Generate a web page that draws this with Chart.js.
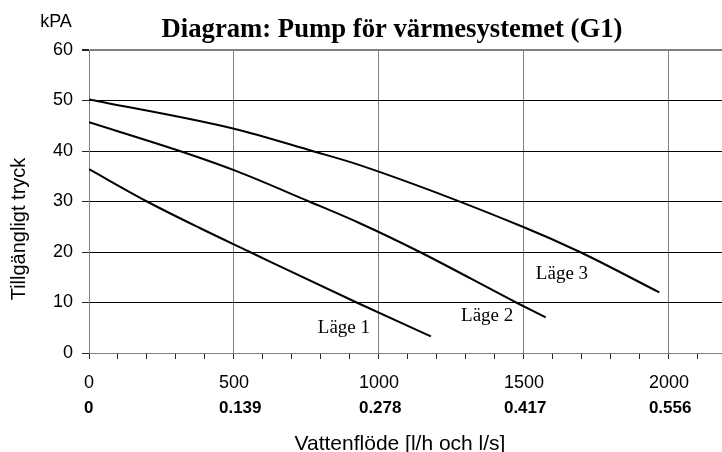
<!DOCTYPE html>
<html><head><meta charset="utf-8">
<script src="https://cdn.jsdelivr.net/npm/chart.js@4"></script>
<style>html,body{margin:0;padding:0;background:#fff}#wrap{width:722px;height:452px;position:relative}</style>
</head><body><div id="wrap"><canvas id="c"></canvas></div>
<script>
const chartTitle = 'Diagram: Pump för värmesystemet (G1)';
const yUnit = 'kPA';
const yTitle = 'Tillgängligt tryck';
const xTitle = 'Vattenflöde [l/h och l/s]';
const seriesNames = ['Läge 1', 'Läge 2', 'Läge 3'];

// Flow [l/h] and pressure [kPa] per pump setting
const flowL1 = [0, 200, 382, 555, 923, 1179];
const kpaL1  = [36.4, 30, 24.75, 20, 10, 3.3];
const flowL2 = [0, 313, 500, 759, 934, 1141, 1473, 1575];
const kpaL2  = [45.7, 40, 36.2, 30, 25.7, 20, 10, 7.05];
const flowL3 = [0, 500, 770, 934, 1500, 1693, 1967];
const kpaL3  = [50.2, 44.4, 40, 37.2, 24.9, 20, 12];

// Axis tick labels
const flowTicks = [0, 500, 1000, 1500, 2000];
const flowTicksLs = ['0', '0.139', '0.278', '0.417', '0.556'];
const kpaTicks = [0, 10, 20, 30, 40, 50, 60];

// Where the series names sit (data coordinates, left/baseline)
const labelFlow = [789, 1283, 1541];
const labelKpa  = [3.96, 6.4, 14.65];

const toPts = (xs, ys) => xs.map((x, i) => ({x, y: ys[i]}));
const SANS = '"Liberation Sans", Arial, sans-serif';
const SERIF = '"Liberation Serif", "Times New Roman", serif';
const TICK_FONT = '18px ' + SANS;

const textPlugin = {
  id: 'texts',
  afterDraw(chart) {
    const ctx = chart.ctx, xs = chart.scales.x, ys = chart.scales.y;
    ctx.save();
    ctx.fillStyle = '#000';
    // main title
    ctx.font = 'bold 26.7px ' + SERIF;
    ctx.textAlign = 'center'; ctx.textBaseline = 'alphabetic';
    ctx.fillText(chartTitle, 392, 37);
    // unit
    ctx.font = '18px ' + SANS;
    ctx.fillText(yUnit, 56, 27);
    // second row of x labels (l/s), left-aligned with the l/h labels
    flowTicks.forEach((v, i) => {
      ctx.font = TICK_FONT;
      const w = ctx.measureText(String(v)).width;
      const left = xs.getPixelForValue(v) - w / 2;
      ctx.font = 'bold 17px ' + SANS;
      ctx.textAlign = 'left';
      ctx.fillText(flowTicksLs[i], left, 413);
    });
    // y title
    ctx.save();
    ctx.translate(25, 229);
    ctx.rotate(-Math.PI / 2);
    ctx.font = '20px ' + SANS;
    ctx.textAlign = 'center'; ctx.textBaseline = 'alphabetic';
    ctx.fillText(yTitle, 0, 0);
    ctx.restore();
    // x title
    ctx.font = '21px ' + SANS;
    ctx.textAlign = 'center';
    ctx.fillText(xTitle, 400, 450);
    // series labels
    ctx.font = '19px ' + SERIF;
    ctx.textAlign = 'left';
    seriesNames.forEach((n, i) => {
      ctx.fillText(n, xs.getPixelForValue(labelFlow[i]), ys.getPixelForValue(labelKpa[i]));
    });
    ctx.restore();
  }
};

const ds = (xs, ys) => ({
  data: toPts(xs, ys), borderColor: '#000', borderWidth: 2, pointRadius: 0,
  cubicInterpolationMode: 'monotone', fill: false, xAxisID: 'x', yAxisID: 'y'
});

new Chart(document.getElementById('c'), {
  type: 'line',
  data: { datasets: [ds(flowL1, kpaL1), ds(flowL2, kpaL2), ds(flowL3, kpaL3)] },
  options: {
    responsive: true, maintainAspectRatio: false, animation: false,
    layout: { padding: { left: 0, right: 0, top: 50, bottom: 0 } },
    plugins: { legend: { display: false }, tooltip: { enabled: false }, title: { display: false } },
    scales: {
      x: {
        type: 'linear', position: 'bottom', min: 0, max: 2183,
        afterFit(s) { s.height = 99; },
        border: { display: true, color: '#808080', width: 1 },
        grid: {
          color: c => (c.tick && c.tick.value % 500 === 0) ? '#808080' : 'rgba(0,0,0,0)',
          tickColor: '#222', tickLength: 6, lineWidth: 1, drawTicks: true
        },
        ticks: {
          stepSize: 100, includeBounds: false, autoSkip: false, maxRotation: 0,
          color: '#000', font: { family: SANS, size: 18 }, padding: 13,
          callback: v => flowTicks.includes(v) ? String(v) : ''
        }
      },
      y: {
        type: 'linear', min: 0, max: 60,
        afterFit(s) { s.width = 89; },
        border: { display: true, color: '#808080', width: 1 },
        grid: {
          color: c => (c.tick && (c.tick.value === 60 || c.tick.value === 0)) ? '#808080' : '#000',
          lineWidth: c => (c.tick && c.tick.value === 60) ? 2 : 1,
          tickColor: '#222', tickLength: 7
        },
        ticks: {
          stepSize: 10, color: '#000', font: { family: SANS, size: 18 }, padding: 9,
          callback: v => kpaTicks.includes(v) ? String(v) : ''
        }
      }
    }
  },
  plugins: [textPlugin]
});
</script></body></html>
